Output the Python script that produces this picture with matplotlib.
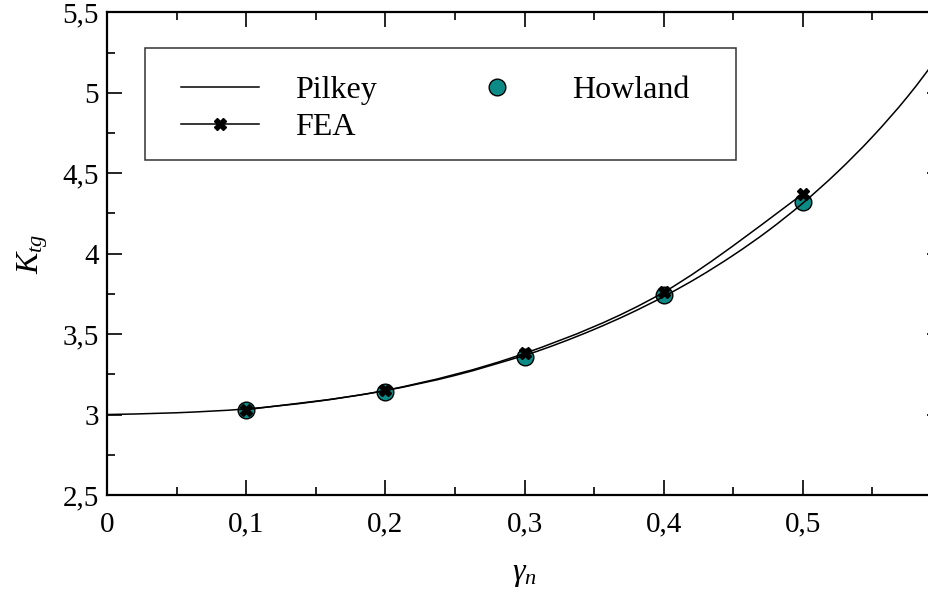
import matplotlib
matplotlib.use("Agg")
import matplotlib.pyplot as plt
from matplotlib.lines import Line2D
from matplotlib.path import Path
from matplotlib.patches import PathPatch, Rectangle
from matplotlib.ticker import FuncFormatter, MultipleLocator

plt.rcParams["font.family"] = "Liberation Serif"
plt.rcParams["mathtext.fontset"] = "custom"
plt.rcParams["mathtext.rm"] = "Liberation Serif"
plt.rcParams["mathtext.it"] = "Liberation Serif:italic"

# Pilkey curve, gross-section stress concentration factor vs d/H
pilkey_g = [0.0, 0.05, 0.1, 0.15, 0.2, 0.25, 0.3, 0.325, 0.35, 0.375, 0.4,
            0.425, 0.45, 0.475, 0.5, 0.525, 0.55, 0.575, 0.6]
pilkey_k = [3.00, 3.011, 3.035, 3.081, 3.149, 3.243, 3.368, 3.443, 3.529, 3.625, 3.733,
            3.854, 3.990, 4.142, 4.314, 4.508, 4.726, 4.973, 5.255]

# FE results
fea_g = [0.1, 0.2, 0.3, 0.4, 0.5]
fea_k = [3.03, 3.15, 3.38, 3.76, 4.37]

# Howland (1930)
how_g = [0.1, 0.2, 0.3, 0.4, 0.5]
how_k = [3.03, 3.14, 3.36, 3.74, 4.32]

TEAL = "#0b8a86"


def smooth_path(xs, ys):
    """Catmull-Rom spline through the points, as cubic Bezier segments."""
    pts = list(zip(xs, ys))
    verts = [pts[0]]
    codes = [Path.MOVETO]
    n = len(pts)
    for i in range(n - 1):
        p0 = pts[i - 1] if i > 0 else pts[i]
        p1, p2 = pts[i], pts[i + 1]
        p3 = pts[i + 2] if i + 2 < n else pts[i + 1]
        c1 = (p1[0] + (p2[0] - p0[0]) / 6, p1[1] + (p2[1] - p0[1]) / 6)
        c2 = (p2[0] - (p3[0] - p1[0]) / 6, p2[1] - (p3[1] - p1[1]) / 6)
        verts += [c1, c2, p2]
        codes += [Path.CURVE4] * 3
    return Path(verts, codes)


def comma(v, _):
    return f"{v:g}".replace(".", ",")


def comma_x(v, pos):
    if v > 0.55:          # 0,6 sits on the clipped right spine
        return ""
    return comma(v, pos)


fig = plt.figure(figsize=(9.29, 5.96), dpi=100)
# right spine sits just past the figure edge (x = 0.6)
ax = fig.add_axes([0.1152, 0.1695, 0.8988, 0.8099])

ax.plot(how_g, how_k, ls="none", marker="o", ms=12, mfc=TEAL, mec="black",
        mew=1.0, zorder=3)
ax.add_patch(PathPatch(smooth_path(pilkey_g, pilkey_k), fc="none", ec="black",
                       lw=1.1, zorder=4))
ax.add_patch(PathPatch(smooth_path(fea_g, fea_k), fc="none", ec="black", lw=1.1,
                       zorder=5))
ax.plot(fea_g, fea_k, ls="none", marker="X", ms=9, color="black", zorder=6)

ax.set_xlim(0, 0.6)
ax.set_ylim(2.5, 5.5)
ax.xaxis.set_major_locator(MultipleLocator(0.1))
ax.xaxis.set_minor_locator(MultipleLocator(0.05))
ax.yaxis.set_major_locator(MultipleLocator(0.5))
ax.yaxis.set_minor_locator(MultipleLocator(0.25))
ax.xaxis.set_major_formatter(FuncFormatter(comma_x))
ax.yaxis.set_major_formatter(FuncFormatter(comma))
ax.tick_params(which="both", direction="in", top=True, right=True, width=1.2,
               labelsize=21)
ax.tick_params(which="major", length=10.8)
ax.tick_params(which="minor", length=5.8)
ax.tick_params(axis="x", pad=12)
ax.tick_params(axis="y", pad=6)
for sp in ax.spines.values():
    sp.set_linewidth(1.6)

ax.set_xlabel(r"$\gamma_n$", fontsize=23, labelpad=16)
ax.set_ylabel(r"$K_{tg}$", fontsize=23, labelpad=9)

handles = [Line2D([], [], color="black", lw=1.1),
           Line2D([], [], color="black", lw=1.1, marker="X", ms=9),
           Line2D([], [], ls="none", marker="o", ms=12, mfc=TEAL, mec="black", mew=1.0)]
labels = ["Pilkey", "FEA", "Howland"]
fig.legend(handles, labels, ncol=2, loc="upper left",
           bbox_to_anchor=(181 / 929, 1 - 76 / 596), frameon=False, fontsize=23,
           borderpad=0, borderaxespad=0, handlelength=2.45, handletextpad=1.13,
           columnspacing=2.54, labelspacing=0.22)
fig.add_artist(Rectangle((145 / 929, 1 - 160 / 596), 591 / 929, 112 / 596,
                         transform=fig.transFigure, fill=False, ec="#333333", lw=1.1))

fig.savefig("out.png", dpi=100)
